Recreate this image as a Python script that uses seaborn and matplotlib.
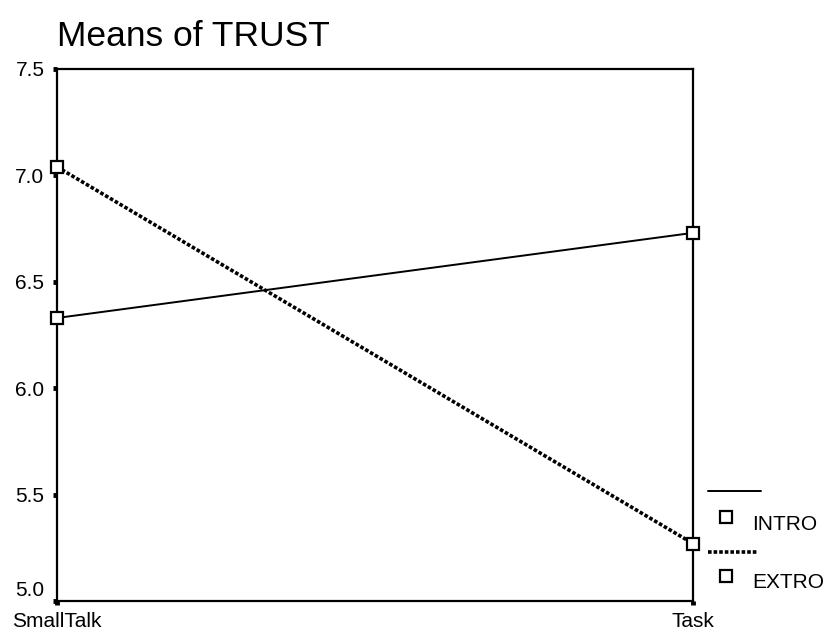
"""Means of TRUST: interaction plot of condition by personality group."""
import matplotlib
matplotlib.use("Agg")
import pandas as pd
import seaborn as sns
from matplotlib import pyplot as plt
from matplotlib import transforms
from matplotlib.lines import Line2D

conditions = ["SmallTalk", "Task"]
groups = ["INTRO", "EXTRO"]
intro_means = [6.33, 6.73]
extro_means = [7.04, 5.27]
y_ticks = [5.0, 5.5, 6.0, 6.5, 7.0, 7.5]

data = pd.DataFrame({
    "condition": conditions * 2,
    "group": [groups[0]] * 2 + [groups[1]] * 2,
    "trust": intro_means + extro_means,
})

sns.set_style("white")
plt.rcParams["font.family"] = ["Liberation Sans", "DejaVu Sans"]
plt.rcParams["text.color"] = "black"
plt.rcParams["xtick.color"] = "black"
plt.rcParams["ytick.color"] = "black"

fig = plt.figure(figsize=(8.28, 6.36), dpi=100)
ax = fig.add_axes([57 / 828, 35 / 636, 636 / 828, 532 / 636])

dash_styles = {"INTRO": "", "EXTRO": (1, 0.55)}
sns.lineplot(
    data=data,
    x="condition",
    y="trust",
    hue="group",
    hue_order=groups,
    palette=["black", "black"],
    style="group",
    style_order=groups,
    dashes=dash_styles,
    markers={"INTRO": "s", "EXTRO": "s"},
    ax=ax,
    legend=False,
)
for line, lw in zip(ax.lines, [1.4, 2.6]):
    line.set_linewidth(lw)
    line.set_markersize(9)
    line.set_markerfacecolor("white")
    line.set_markeredgecolor("black")
    line.set_markeredgewidth(1.6)
    line.set_clip_on(False)
    line.set_zorder(5)

ax.set_xlim(0, 1)
ax.set_ylim(5.0, 7.5)
ax.set_yticks(y_ticks)
ax.set_yticklabels([f"{t:.1f}" for t in y_ticks])
ax.set_xlabel("")
ax.set_ylabel("")
for side in ["left", "right", "top", "bottom"]:
    ax.spines[side].set_color("black")
    ax.spines[side].set_linewidth(1.6)
ax.tick_params(axis="y", direction="out", length=3, width=3.5,
               labelsize=15, pad=6, left=True)
ax.tick_params(axis="x", direction="out", length=3, width=3.5,
               labelsize=15, pad=5, bottom=True)

# the lowest y label sits above the axis corner, as in the original
lowest = ax.get_yticklabels()[0]
lowest.set_transform(lowest.get_transform()
                     + transforms.ScaledTranslation(0, 0.13, fig.dpi_scale_trans))

fig.text(57 / 828, 1 - 36 / 636, "Means of TRUST", fontsize=25.5,
         ha="left", va="center")

# SPSS style legend to the right of the plot
fig.add_artist(Line2D([708 / 828, 761 / 828], [1 - 491 / 636] * 2,
                      color="black", lw=1.4))
fig.add_artist(Line2D([726 / 828], [1 - 517 / 636], marker="s", markersize=9,
                      markerfacecolor="white", markeredgecolor="black",
                      markeredgewidth=1.6, lw=0))
fig.text(752 / 828, 1 - 525 / 636, "INTRO", fontsize=15, va="center")
fig.add_artist(Line2D([708 / 828, 757 / 828], [1 - 552 / 636] * 2,
                      color="black", lw=2.6, dashes=(1, 0.55)))
fig.add_artist(Line2D([726 / 828], [1 - 576 / 636], marker="s", markersize=9,
                      markerfacecolor="white", markeredgecolor="black",
                      markeredgewidth=1.6, lw=0))
fig.text(752 / 828, 1 - 583 / 636, "EXTRO", fontsize=15, va="center")

fig.savefig("out.png", dpi=100)
